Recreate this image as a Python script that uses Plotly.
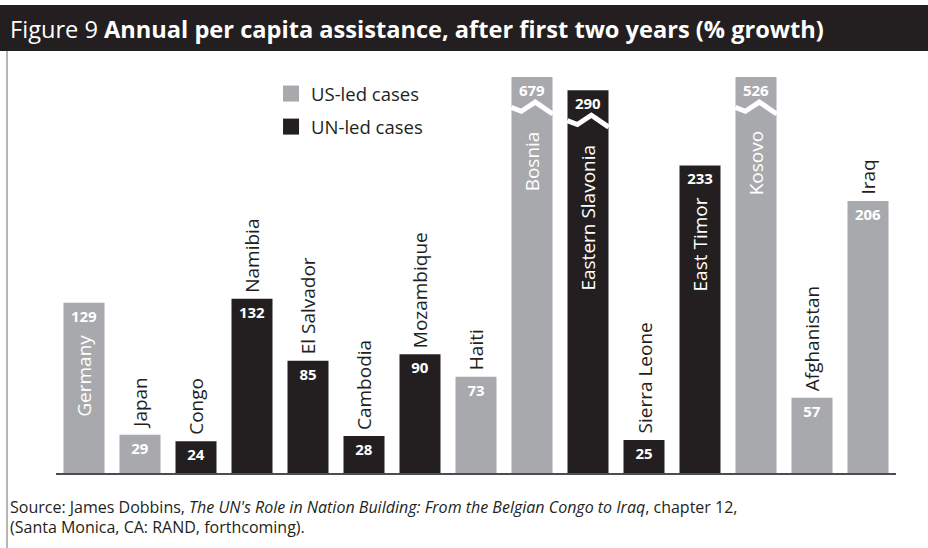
import plotly.graph_objects as go

# ---- data ----
countries = ["Germany", "Japan", "Congo", "Namibia", "El Salvador", "Cambodia", "Mozambique",
             "Haiti", "Bosnia", "Eastern Slavonia", "Sierra Leone", "East Timor", "Kosovo",
             "Afghanistan", "Iraq"]
values = [129, 29, 24, 132, 85, 28, 90, 73, 679, 290, 25, 233, 526, 57, 206]
lead = ["US", "US", "UN", "UN", "UN", "UN", "UN", "US", "US", "UN", "UN", "UN", "US", "US", "US"]
broken = ["Bosnia", "Eastern Slavonia", "Kosovo"]
label_inside = ["Germany", "Bosnia", "Eastern Slavonia", "East Timor", "Kosovo"]
axis_cap = 300  # visible top of value axis; larger bars are drawn broken

GRAY = "#a7a9ac"
DARK = "#231f20"
FONT = "Open Sans"

colors = {"US": GRAY, "UN": DARK}
xs = list(range(len(countries)))
shown = [min(v, axis_cap) for v in values]

fig = go.Figure()
fig.add_trace(go.Bar(
    x=xs, y=shown,
    marker=dict(color=[colors[l] for l in lead], line=dict(width=0)),
    text=[str(v) for v in values],
    textposition="inside", insidetextanchor="end", textangle=0,
    insidetextfont=dict(family=FONT, size=15, color="white", weight="bold"),
    constraintext="none",
    showlegend=False, hoverinfo="skip",
))

# break marks (white zigzag) on the broken bars
half = 0.37
zig_dx = [-half, -half + 0.18, -half + 0.43, half]
zig_dy = [0, -3, 4, -5]
for i, c in enumerate(countries):
    if c in broken:
        base = shown[i] - 23
        fig.add_trace(go.Scatter(
            x=[i + d for d in zig_dx], y=[base + d for d in zig_dy],
            mode="lines", line=dict(color="white", width=5),
            showlegend=False, hoverinfo="skip",
        ))

# legend items
fig.add_trace(go.Scatter(x=[None], y=[None], mode="markers", name="US-led cases",
                         legendgroup="us",
                         marker=dict(symbol="square", size=16, color=GRAY)))
fig.add_trace(go.Scatter(x=[None], y=[None], mode="markers", name="UN-led cases",
                         legendgroup="un",
                         marker=dict(symbol="square", size=16, color=DARK)))

annotations = []
for i, c in enumerate(countries):
    if c in label_inside:
        if c in broken:
            y = shown[i] - 23
            ys = -22
        else:
            y = shown[i]
            ys = -30
        annotations.append(dict(x=i, y=y, xref="x", yref="y", text=c, showarrow=False,
                                textangle=-90, xanchor="center", yanchor="top", yshift=ys,
                                font=dict(family=FONT, size=19, color="white")))
    else:
        annotations.append(dict(x=i, y=shown[i], xref="x", yref="y", text=c, showarrow=False,
                                textangle=-90, xanchor="center", yanchor="bottom", yshift=4,
                                font=dict(family=FONT, size=19, color=DARK)))

# title
annotations.append(dict(x=-0.057, y=1.121, xref="paper", yref="paper", xanchor="left",
                        yanchor="middle", showarrow=False,
                        text="Figure 9 <b>Annual per capita assistance, after first two years (% growth)</b>",
                        font=dict(family=FONT, size=23.6, color="white")))
# source
annotations.append(dict(x=-0.057, y=-0.085, xref="paper", yref="paper", xanchor="left",
                        yanchor="middle", showarrow=False,
                        text="Source: James Dobbins, <i>The UN's Role in Nation Building: From the Belgian Congo to Iraq</i>, chapter 12,",
                        font=dict(family=FONT, size=16, color=DARK)))
annotations.append(dict(x=-0.057, y=-0.136, xref="paper", yref="paper", xanchor="left",
                        yanchor="middle", showarrow=False,
                        text="(Santa Monica, CA: RAND, forthcoming).",
                        font=dict(family=FONT, size=16, color=DARK)))

shapes = [
    dict(type="rect", xref="paper", yref="paper", x0=-0.07, x1=1.05, y0=1.0657, y1=1.1818,
         fillcolor=DARK, line=dict(width=0), layer="below"),
    dict(type="line", xref="paper", yref="paper", x0=-0.0583, x1=-0.0583, y0=-0.2, y1=1.0657,
         line=dict(color="#6d6e71", width=1)),
]

fig.update_layout(
    width=928, height=548,
    margin=dict(l=56, r=32, t=77, b=75),
    paper_bgcolor="white", plot_bgcolor="white",
    bargap=0.268,
    xaxis=dict(range=[-0.5, 14.5], showticklabels=False, ticks="", showgrid=False,
               zeroline=False, showline=True, linecolor="#4d4d4f", linewidth=2, fixedrange=True),
    yaxis=dict(range=[0, axis_cap], showticklabels=False, ticks="", showgrid=False,
               zeroline=False, showline=False, fixedrange=True),
    legend=dict(x=0.256, y=1.005, xanchor="left", yanchor="top", bgcolor="rgba(0,0,0,0)",
                font=dict(family=FONT, size=18.5, color=DARK), tracegroupgap=6,
                itemsizing="trace"),
    annotations=annotations,
    shapes=shapes,
    font=dict(family=FONT),
)

fig.write_html("out.html")
